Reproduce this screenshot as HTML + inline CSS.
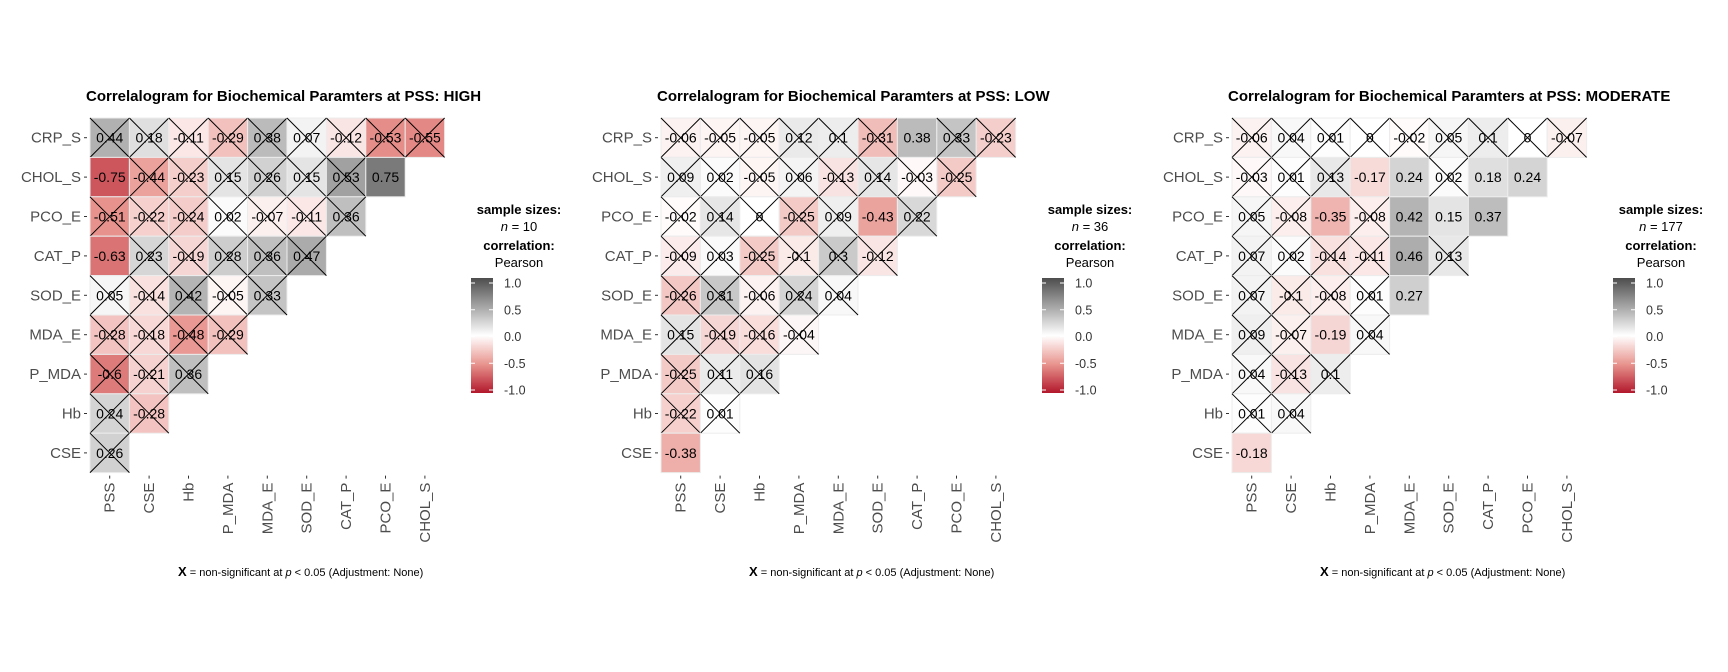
<!DOCTYPE html>
<html><head><meta charset="utf-8">
<style>
html,body{margin:0;padding:0;background:#fff;}
svg{display:block;font-family:"Liberation Sans",sans-serif;}
</style></head>
<body>
<svg id="chart" width="1728" height="672" viewBox="0 0 1728 672" xmlns="http://www.w3.org/2000/svg"></svg>
<script>
const rowLabels = ["CRP_S","CHOL_S","PCO_E","CAT_P","SOD_E","MDA_E","P_MDA","Hb","CSE"];
const colLabels = ["PSS","CSE","Hb","P_MDA","MDA_E","SOD_E","CAT_P","PCO_E","CHOL_S"];
const panelGroups = ["HIGH","LOW","MODERATE"];
const sampleSizes = [10,36,177];
const legendTicks = [1.0,0.5,0.0,-0.5,-1.0];

const valuesHigh = [
 [0.44,0.18,-0.11,-0.29,0.38,0.07,-0.12,-0.53,-0.55],
 [-0.75,-0.44,-0.23,0.15,0.26,0.15,0.53,0.75],
 [-0.51,-0.22,-0.24,0.02,-0.07,-0.11,0.36],
 [-0.63,0.23,-0.19,0.28,0.36,0.47],
 [0.05,-0.14,0.42,-0.05,0.33],
 [-0.28,-0.18,-0.48,-0.29],
 [-0.6,-0.21,0.36],
 [0.24,-0.28],
 [0.26]];
const sigHigh = [
 [0,0,0,0,0,0,0,0,0],
 [1,0,0,0,0,0,0,1],
 [0,0,0,0,0,0,0],
 [1,0,0,0,0,0],
 [0,0,0,0,0],
 [0,0,0,0],
 [0,0,0],
 [0,0],
 [0]];
const valuesLow = [
 [-0.06,-0.05,-0.05,0.12,0.1,-0.31,0.38,0.33,-0.23],
 [0.09,0.02,-0.05,0.06,-0.13,0.14,-0.03,-0.25],
 [-0.02,0.14,0,-0.25,0.09,-0.43,0.22],
 [-0.09,0.03,-0.25,-0.1,0.3,-0.12],
 [-0.26,0.31,-0.06,0.24,0.04],
 [0.15,-0.19,-0.16,-0.04],
 [-0.25,0.11,0.16],
 [-0.22,0.01],
 [-0.38]];
const sigLow = [
 [0,0,0,0,0,0,1,0,0],
 [0,0,0,0,0,0,0,0],
 [0,0,0,0,0,1,0],
 [0,0,0,0,0,0],
 [0,0,0,0,0],
 [0,0,0,0],
 [0,0,0],
 [0,0],
 [1]];
const valuesMod = [
 [-0.06,0.04,0.01,0,-0.02,0.05,0.1,0,-0.07],
 [-0.03,0.01,0.13,-0.17,0.24,0.02,0.18,0.24],
 [0.05,-0.08,-0.35,-0.08,0.42,0.15,0.37],
 [0.07,0.02,-0.14,-0.11,0.46,0.13],
 [0.07,-0.1,-0.08,0.01,0.27],
 [0.09,-0.07,-0.19,0.04],
 [0.04,-0.13,0.1],
 [0.01,0.04],
 [-0.18]];
const sigMod = [
 [0,0,0,0,0,0,0,0,0],
 [0,0,0,1,1,0,1,1],
 [0,0,1,0,1,1,1],
 [0,0,0,0,1,0],
 [0,0,0,0,1],
 [0,0,1,0],
 [0,0,0],
 [0,0],
 [1]];
const panelValues = [valuesHigh, valuesLow, valuesMod];
const panelSig = [sigHigh, sigLow, sigMod];

const NS = "http://www.w3.org/2000/svg";
const svg = document.getElementById("chart");
const CELL = 39.4, X0 = 90, Y0 = 118, PANEL_DX = 571;
function mk(tag, attrs, parent, text){
  const e = document.createElementNS(NS, tag);
  for (const k in attrs) e.setAttribute(k, attrs[k]);
  if (text !== undefined) e.textContent = text;
  (parent || svg).appendChild(e);
  return e;
}
function lerp(a,b,t){ return a.map((x,i)=>Math.round(x+(b[i]-x)*t)); }
function colorFor(v){
  if (v >= 0){
    const c = Math.round(255 - v*(255-77));
    return `rgb(${c},${c},${c})`;
  }
  const t = -v;
  const W=[255,255,255], M=[232,148,142], D=[178,24,43];
  const c = t <= 0.5 ? lerp(W,M,t/0.5) : lerp(M,D,(t-0.5)/0.5);
  return `rgb(${c[0]},${c[1]},${c[2]})`;
}
function xScale(p, c){ return X0 + p*PANEL_DX + c*CELL; }
function yScale(r){ return Y0 + r*CELL; }
function legendY(v){ return 283 + (1 - v)/2 * (390 - 283); }

const defs = mk("defs", {});
const grad = mk("linearGradient", {id:"lg", x1:"0", y1:"0", x2:"0", y2:"1"}, defs);
[1, 0.75, 0.5, 0.25, 0, -0.25, -0.5, -0.75, -1].forEach((v,i)=>{ mk("stop", {offset: (i*12.5)+"%", "stop-color": colorFor(v)}, grad); });

panelGroups.forEach((grp, p) => {
  const g = mk("g", {});
  
  
  const x0 = xScale(p, 0);
  const title = mk("text", {x: x0 - 4, y: 101, "font-size": 15, "font-weight": "bold", fill: "#000"}, g, "Correlalogram for Biochemical Paramters at PSS: " + grp);
  
  

  const vals = panelValues[p], sig = panelSig[p];
  vals.forEach((row, r) => {
    row.forEach((v, c) => {
      const x = xScale(p, c), y = yScale(r);
      const cg = mk("g", {}, g);
      
      
      mk("rect", {x: x, y: y, width: CELL, height: CELL, fill: colorFor(v), stroke: "#ececec", "stroke-width": 1}, cg);
      if (!sig[r][c]){
        mk("line", {x1: x, y1: y, x2: x + CELL, y2: y + CELL, stroke: "#000", "stroke-width": 1}, cg);
        mk("line", {x1: x + CELL, y1: y, x2: x, y2: y + CELL, stroke: "#000", "stroke-width": 1}, cg);
      }
      mk("text", {x: x + CELL/2, y: y + CELL/2 + 5, "text-anchor": "middle", "font-size": 14, fill: "#000"}, cg, String(v));
    });
  });

  rowLabels.forEach((lab, r) => {
    const y = yScale(r) + CELL/2;
    mk("line", {x1: x0 - 6, y1: y, x2: x0 - 3, y2: y, stroke: "#333", "stroke-width": 1}, g);
    const t = mk("text", {x: x0 - 9, y: y + 5, "text-anchor": "end", "font-size": 15, fill: "#4d4d4d"}, g, lab);
    
    
  });
  colLabels.forEach((lab, c) => {
    const x = xScale(p, c) + CELL/2;
    const yb = Y0 + 9*CELL;
    mk("line", {x1: x, y1: yb + 3, x2: x, y2: yb + 6, stroke: "#333", "stroke-width": 1}, g);
    const t = mk("text", {x: 0, y: 0, "text-anchor": "end", "font-size": 15, fill: "#4d4d4d", transform: `translate(${x + 5},${yb + 10}) rotate(-90)`}, g, lab);
    
    
  });

  const lx = 471 + p*PANEL_DX, cx = 519 + p*PANEL_DX;
  const lg = mk("g", {}, g);
  
  
  mk("text", {x: cx, y: 214, "text-anchor": "middle", "font-size": 13, "font-weight": "bold"}, lg, "sample sizes:");
  const nt = mk("text", {x: cx, y: 231, "text-anchor": "middle", "font-size": 13}, lg);
  mk("tspan", {"font-style": "italic"}, nt, "n");
  mk("tspan", {}, nt, " = " + sampleSizes[p]);
  mk("text", {x: cx, y: 250, "text-anchor": "middle", "font-size": 13, "font-weight": "bold"}, lg, "correlation:");
  mk("text", {x: cx, y: 267, "text-anchor": "middle", "font-size": 13}, lg, "Pearson");
  const bar = mk("rect", {x: lx, y: 278, width: 22, height: 115, fill: "url(#lg)"}, lg);
  
  
  legendTicks.forEach(v => {
    const y = legendY(v);
    mk("line", {x1: lx, y1: y, x2: lx + 4, y2: y, stroke: "#fff", "stroke-width": 1}, lg);
    mk("line", {x1: lx + 18, y1: y, x2: lx + 22, y2: y, stroke: "#fff", "stroke-width": 1}, lg);
    mk("text", {x: lx + 33, y: y + 4.5, "font-size": 12.5, fill: "#333"}, lg, v.toFixed(1));
  });

  const cap = mk("text", {x: 178 + p*PANEL_DX, y: 576, "font-size": 11, fill: "#000"}, g);
  
  
  mk("tspan", {"font-weight": "bold", "font-size": 13}, cap, "X");
  mk("tspan", {}, cap, " = non-significant at ");
  mk("tspan", {"font-style": "italic"}, cap, "p");
  mk("tspan", {}, cap, " < 0.05 (Adjustment: None)");
});
</script>
</body></html>
